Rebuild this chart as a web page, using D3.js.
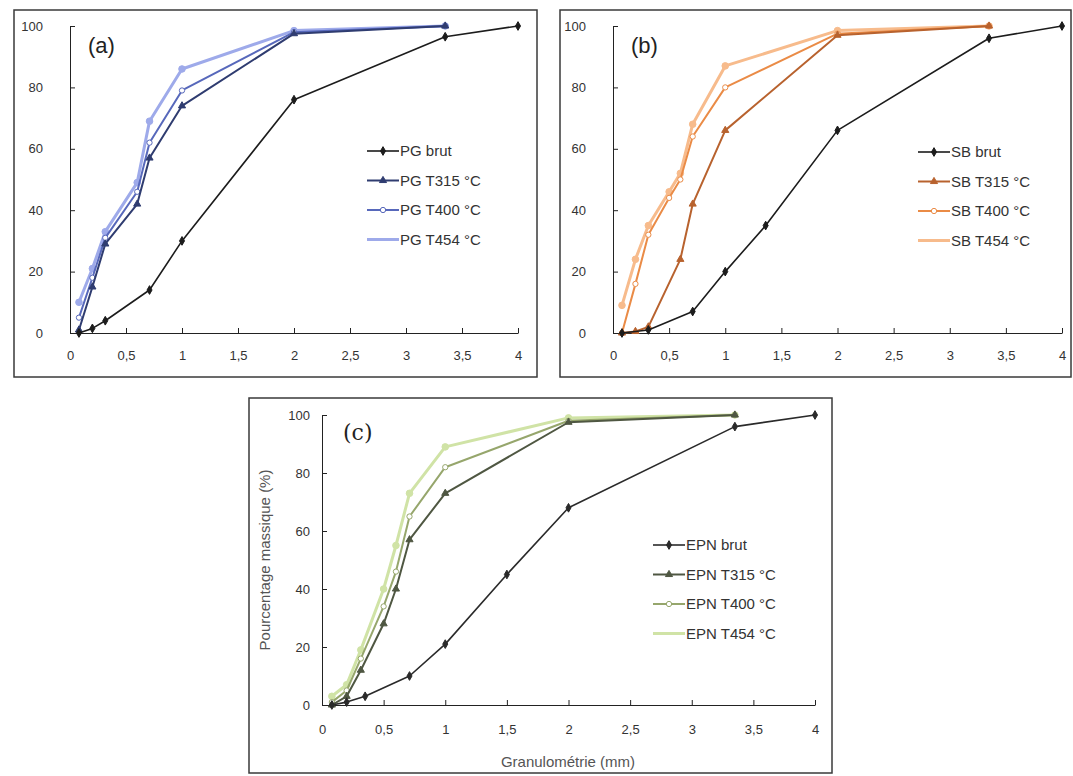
<!DOCTYPE html>
<html>
<head>
<meta charset="utf-8">
<script src="https://cdn.jsdelivr.net/npm/d3@7"></script>
<style>
  body { margin: 0; background: #fff; }
  svg { display: block; font-family: 'Liberation Sans', 'DejaVu Sans', sans-serif; }
</style>
</head>
<body>
<div id="chart-area"></div>
<script>
// values (x = sieve size in mm, y = cumulative mass %)
const xTicks = [0, 0.5, 1, 1.5, 2, 2.5, 3, 3.5, 4];
const yTicks = [0, 20, 40, 60, 80, 100];
const panelLabels = ['(a)', '(b)', '(c)'];
const seriesKeys = ['brut', 'T315', 'T400', 'T454'];

const pgNames = ['PG brut', 'PG T315 °C', 'PG T400 °C', 'PG T454 °C'];
const pgBrutX = [0.08, 0.2, 0.315, 0.71, 1, 2, 3.35, 4];
const pgBrut = [0, 1.5, 4, 14, 30, 76, 96.5, 100];
const pgTreatedX = [0.08, 0.2, 0.315, 0.6, 0.71, 1, 2, 3.35];
const pgT315 = [1, 15, 29, 42, 57, 74, 97.5, 100];
const pgT400 = [5, 18, 31, 46, 62, 79, 98, 100];
const pgT454 = [10, 21, 33, 49, 69, 86, 98.5, 100];

const sbNames = ['SB brut', 'SB T315 °C', 'SB T400 °C', 'SB T454 °C'];
const sbBrutX = [0.08, 0.315, 0.71, 1, 1.36, 2, 3.35, 4];
const sbBrut = [0, 1, 7, 20, 35, 66, 96, 100];
const sbTreatedX = [0.08, 0.2, 0.315, 0.5, 0.6, 0.71, 1, 2, 3.35];
const sbT315 = [0, 0.5, 2, null, 24, 42, 66, 97, 100];
const sbT400 = [0, 16, 32, 44, 50, 64, 80, 97.5, 100];
const sbT454 = [9, 24, 35, 46, 52, 68, 87, 98.5, 100];

const epnNames = ['EPN brut', 'EPN T315 °C', 'EPN T400 °C', 'EPN T454 °C'];
const epnBrutX = [0.08, 0.2, 0.35, 0.71, 1, 1.5, 2, 3.35, 4];
const epnBrut = [0, 1, 3, 10, 21, 45, 68, 96, 100];
const epnTreatedX = [0.08, 0.2, 0.315, 0.5, 0.6, 0.71, 1, 2, 3.35];
const epnT315 = [0, 3, 12, 28, 40, 57, 73, 97.5, 100];
const epnT400 = [1, 5, 16, 34, 46, 65, 82, 98, 100];
const epnT454 = [3, 7, 19, 40, 55, 73, 89, 99, 100];

const pairs = (xs, ys) => xs.map((x, i) => ({ x: x, y: ys[i] })).filter(d => d.y !== null);

const panels = [
  {
    label: panelLabels[0], names: pgNames,
    series: [pairs(pgBrutX, pgBrut), pairs(pgTreatedX, pgT315), pairs(pgTreatedX, pgT400), pairs(pgTreatedX, pgT454)],
    colors: ['#1c1c1c', '#2f3c70', '#5768bb', '#9eaaea'],
    frame: [14, 10, 537, 377], xr: [70, 518], yr: [333, 26],
    yPad: 27, xPad: 18, legend: [367, 151], labelPos: [88, 53], labelFont: 'sans-serif'
  },
  {
    label: panelLabels[1], names: sbNames,
    series: [pairs(sbBrutX, sbBrut), pairs(sbTreatedX, sbT315), pairs(sbTreatedX, sbT400), pairs(sbTreatedX, sbT454)],
    colors: ['#1c1c1c', '#b8622e', '#ea8b46', '#f7bb8c'],
    frame: [560, 10, 1071, 377], xr: [613, 1062], yr: [333, 26],
    yPad: 27, xPad: 18, legend: [918, 152], labelPos: [631, 53], labelFont: 'sans-serif'
  },
  {
    label: panelLabels[2], names: epnNames,
    series: [pairs(epnBrutX, epnBrut), pairs(epnTreatedX, epnT315), pairs(epnTreatedX, epnT400), pairs(epnTreatedX, epnT454)],
    colors: ['#2a2a2a', '#4f5742', '#96a66c', '#d0e3a6'],
    frame: [249, 398, 832, 773], xr: [322, 815], yr: [705, 415],
    yPad: 12, xPad: 20, legend: [653, 545], labelPos: [343, 440], labelFont: "'DejaVu Serif', serif"
  }
];

const widths = [1.6, 2, 2, 3];
const symbols = [d3.symbolDiamond, d3.symbolTriangle, d3.symbolCircle, d3.symbolCircle];

const svg = d3.select('#chart-area')
  .append('svg')
  .attr('width', 1073)
  .attr('height', 776);

panels.forEach((p) => {
  const g = svg.append('g');

  g.append('rect')
    .attr('x', p.frame[0])
    .attr('y', p.frame[1])
    .attr('width', p.frame[2] - p.frame[0])
    .attr('height', p.frame[3] - p.frame[1])
    .attr('fill', 'none')
    .attr('stroke', '#3a3a3a')
    .attr('stroke-width', 1.5);

  const x = d3.scaleLinear().domain([0, 4]).range(p.xr);
  const y = d3.scaleLinear().domain([0, 100]).range(p.yr);

  const xAxisCall = d3.axisBottom(x)
    .tickValues(xTicks)
    .tickSizeInner(-5)
    .tickSizeOuter(0)
    .tickPadding(p.xPad)
    .tickFormat((v) => String(v).replace('.', ','));

  g.append('g')
    .attr('transform', 'translate(0, ' + y(0) + ')')
    .call(xAxisCall);

  const yAxisCall = d3.axisLeft(y)
    .tickValues(yTicks)
    .tickSizeInner(-5)
    .tickSizeOuter(0)
    .tickPadding(p.yPad);

  g.append('g')
    .attr('transform', 'translate(' + x(0) + ', 0)')
    .call(yAxisCall);

  g.selectAll('.domain, .tick line').attr('stroke', '#222');
  g.selectAll('.tick text')
    .attr('font-size', '13px')
    .attr('fill', '#333');

  const line = d3.line()
    .x((d) => x(d.x))
    .y((d) => y(d.y));

  // lightest series first so darker ones sit on top
  [3, 2, 1, 0].forEach((i) => {
    g.append('path')
      .datum(p.series[i])
      .attr('d', line)
      .attr('fill', 'none')
      .attr('stroke', p.colors[i])
      .attr('stroke-width', widths[i])
      .attr('stroke-linejoin', 'round');

    g.selectAll('.m' + i)
      .data(p.series[i])
      .enter()
      .append('path')
      .attr('transform', (d) => 'translate(' + x(d.x) + ',' + y(d.y) + ')')
      .attr('d', d3.symbol().type(symbols[i]).size(i === 3 ? 34 : 22))
      .attr('fill', i === 2 ? '#fff' : p.colors[i])
      .attr('stroke', p.colors[i])
      .attr('stroke-width', 1);
  });

  g.append('text')
    .attr('x', p.labelPos[0])
    .attr('y', p.labelPos[1])
    .attr('font-size', '22px')
    .attr('font-family', p.labelFont)
    .attr('fill', '#222')
    .text(p.label);

  // legend
  seriesKeys.forEach((key, i) => {
    const ly = p.legend[1] + i * 29.5;
    g.append('line')
      .attr('x1', p.legend[0])
      .attr('x2', p.legend[0] + 32)
      .attr('y1', ly)
      .attr('y2', ly)
      .attr('stroke', p.colors[i])
      .attr('stroke-width', widths[i]);
    if (i < 3) {
      g.append('path')
        .attr('transform', 'translate(' + (p.legend[0] + 16) + ',' + ly + ')')
        .attr('d', d3.symbol().type(symbols[i]).size(22))
        .attr('fill', i === 2 ? '#fff' : p.colors[i])
        .attr('stroke', p.colors[i]);
    }
    g.append('text')
      .attr('x', p.legend[0] + 33)
      .attr('y', ly)
      .attr('dy', '0.35em')
      .attr('font-size', '15px')
      .attr('fill', '#333')
      .text(p.names[i]);
  });
});

// axis titles (panel c only)
svg.append('text')
  .attr('x', 568)
  .attr('y', 767)
  .attr('text-anchor', 'middle')
  .attr('font-size', '15px')
  .attr('fill', '#555')
  .text('Granulométrie (mm)');

svg.append('text')
  .attr('transform', 'translate(270, 560) rotate(-90)')
  .attr('text-anchor', 'middle')
  .attr('font-size', '15px')
  .attr('fill', '#555')
  .text('Pourcentage massique (%)');
</script>
</body>
</html>
